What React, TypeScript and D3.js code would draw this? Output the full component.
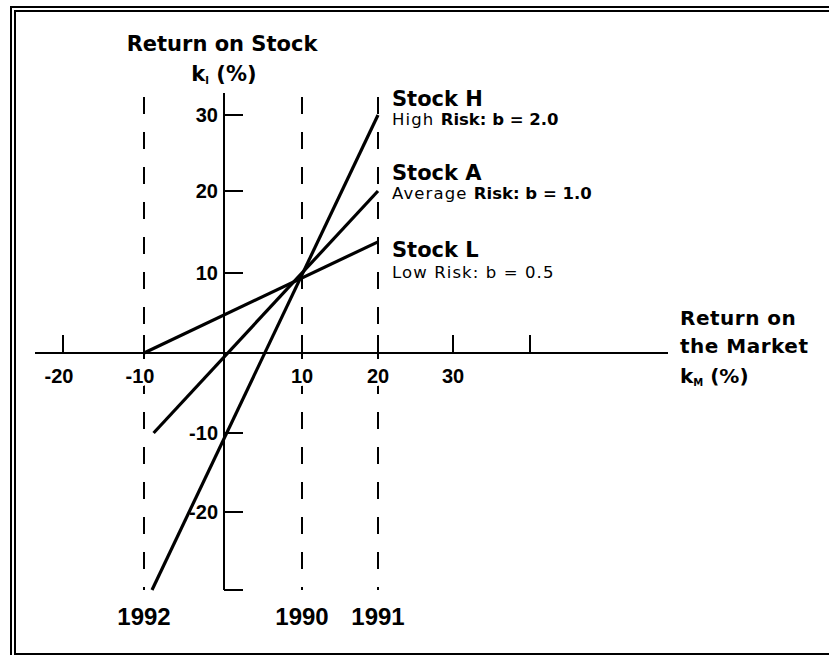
import React from 'react';
import * as d3 from 'd3';

// ---- data ----
const marketTicks = [-20, -10, 10, 20, 30, 40];
const marketTickLabels = ['-20', '-10', '10', '20', '30', ''];
const stockTicks = [30, 20, 10, -10, -20, -30];
const stockTickLabels = ['30', '20', '10', '-10', '-20', ''];
const years = ['1992', '1990', '1991'];
const yearMarketReturn = [-10, 10, 20];
const stockNames = ['Stock H', 'Stock A', 'Stock L'];
const stockRiskWord = ['High', 'Average', 'Low'];
const stockBeta = ['2.0', '1.0', '0.5'];
const stockFromMarket = [-9, -8.8, -10];
const stockFromReturn = [-30, -10, 0];
const stockToMarket = [20, 20, 20];
const stockToReturn = [30, 20, 13.8];

const W = 829;
const H = 655;
const ARIAL = "'Liberation Sans', Arial, Helvetica, sans-serif";
const VERD = "'DejaVu Sans', Verdana, sans-serif";

export default function App() {
  // the hand-drawn original is not perfectly uniform: polylinear scales
  const x = d3.scaleLinear()
    .domain([-20, -10, 0, 10, 20, 30, 40])
    .range([63, 144, 224, 302, 378, 453, 530]);
  const y = d3.scaleLinear()
    .domain([-30, -20, -10, 0, 10, 20, 30])
    .range([590, 512, 433, 353, 273, 191, 115]);

  const line = d3.line<[number, number]>().x(d => x(d[0])).y(d => y(d[1]));

  const x0 = x(0);
  const y0 = y(0);
  const yBottom = y(-30);
  const nameOffsets = [-9, -11, 15];
  const riskOffsets = [10, 8, 36];

  return (
    <svg width={W} height={H} style={{ position: 'absolute', left: 0, top: 0, background: '#fff' }}>
      <rect x={0} y={0} width={W} height={H} fill="#fff" />
      {/* frame */}
      <g stroke="#000" strokeWidth={2} fill="none" shapeRendering="crispEdges">
        <line x1={11} y1={7} x2={W} y2={7} />
        <line x1={11} y1={6} x2={11} y2={H} />
        <line x1={15} y1={11} x2={W} y2={11} />
        <line x1={15} y1={10} x2={15} y2={654} />
        <line x1={14} y1={654} x2={W} y2={654} />
      </g>

      {/* dashed year lines */}
      <g stroke="#000" strokeWidth={2} strokeDasharray="17,18" shapeRendering="crispEdges">
        {yearMarketReturn.map((m, i) => (
          <line key={i} x1={x(m)} x2={x(m)} y1={97} y2={yBottom} />
        ))}
      </g>

      {/* axes */}
      <g stroke="#000" strokeWidth={2} shapeRendering="crispEdges">
        <line x1={35} x2={668} y1={y0} y2={y0} />
        <line x1={x0} x2={x0} y1={93} y2={yBottom} />
        {marketTicks.map((t, i) => (
          <line key={'xt' + i} x1={x(t)} x2={x(t)} y1={y0 - 18} y2={y0} />
        ))}
        {stockTicks.map((t, i) => (
          <line key={'yt' + i} x1={x0} x2={x0 + 19} y1={y(t)} y2={y(t)} />
        ))}
      </g>

      {/* stock lines */}
      <g stroke="#000" strokeWidth={3.2} fill="none" strokeLinecap="butt">
        {stockNames.map((n, i) => (
          <path
            key={n}
            d={line([
              [stockFromMarket[i], stockFromReturn[i]],
              [stockToMarket[i], stockToReturn[i]],
            ]) || ''}
          />
        ))}
      </g>

      {/* tick labels (white halo so dashes don't cross them) */}
      <g fontFamily={ARIAL} fontWeight="bold" fontSize={20} fill="#000">
        {marketTicks.map((t, i) => (
          <text key={'xl' + i} x={x(t) - (t < 0 ? 4 : 0)} y={383} textAnchor="middle"
            stroke="#fff" strokeWidth={6} paintOrder="stroke" strokeLinejoin="round">
            {marketTickLabels[i]}
          </text>
        ))}
        {stockTicks.map((t, i) => (
          <text key={'yl' + i} x={218} y={y(t) + 7} textAnchor="end">
            {stockTickLabels[i]}
          </text>
        ))}
      </g>

      {/* stock labels */}
      {stockNames.map((n, i) => {
        const ey = y(stockToReturn[i]);
        const lx = x(stockToMarket[i]) + 14;
        return (
          <g key={'lab' + i} fill="#000" fontFamily={VERD}>
            <text x={lx} y={ey + nameOffsets[i]} fontWeight="bold" fontSize={21}>{n}</text>
            <text x={lx} y={ey + riskOffsets[i]} fontSize={16.5}>
              <tspan letterSpacing={1.1}>{stockRiskWord[i]} </tspan>
              <tspan fontWeight={i === 2 ? 'normal' : 'bold'} letterSpacing={i === 2 ? 1.1 : 0}>{`Risk: b = ${stockBeta[i]}`}</tspan>
            </text>
          </g>
        );
      })}

      {/* axis titles */}
      <g fontFamily={VERD} fontWeight="bold" fill="#000">
        <text x={222} y={51} fontSize={21} textAnchor="middle">Return on Stock</text>
        <text x={224} y={81} fontSize={21} textAnchor="middle">
          k<tspan fontSize={10} dy={3}>I</tspan>
          <tspan dy={-3}> (%)</tspan>
        </text>
        <text x={680} y={325} fontSize={20} letterSpacing={0.5}>Return on</text>
        <text x={680} y={353} fontSize={20} letterSpacing={0.5}>the Market</text>
        <text x={680} y={383} fontSize={20}>
          k<tspan fontSize={10} dy={3}>M</tspan>
          <tspan dy={-3}> (%)</tspan>
        </text>
      </g>

      {/* year labels */}
      <g fontFamily={ARIAL} fontWeight="bold" fontSize={24} fill="#000">
        {years.map((yr, i) => (
          <text key={yr} x={x(yearMarketReturn[i])} y={625} textAnchor="middle">{yr}</text>
        ))}
      </g>
    </svg>
  );
}
